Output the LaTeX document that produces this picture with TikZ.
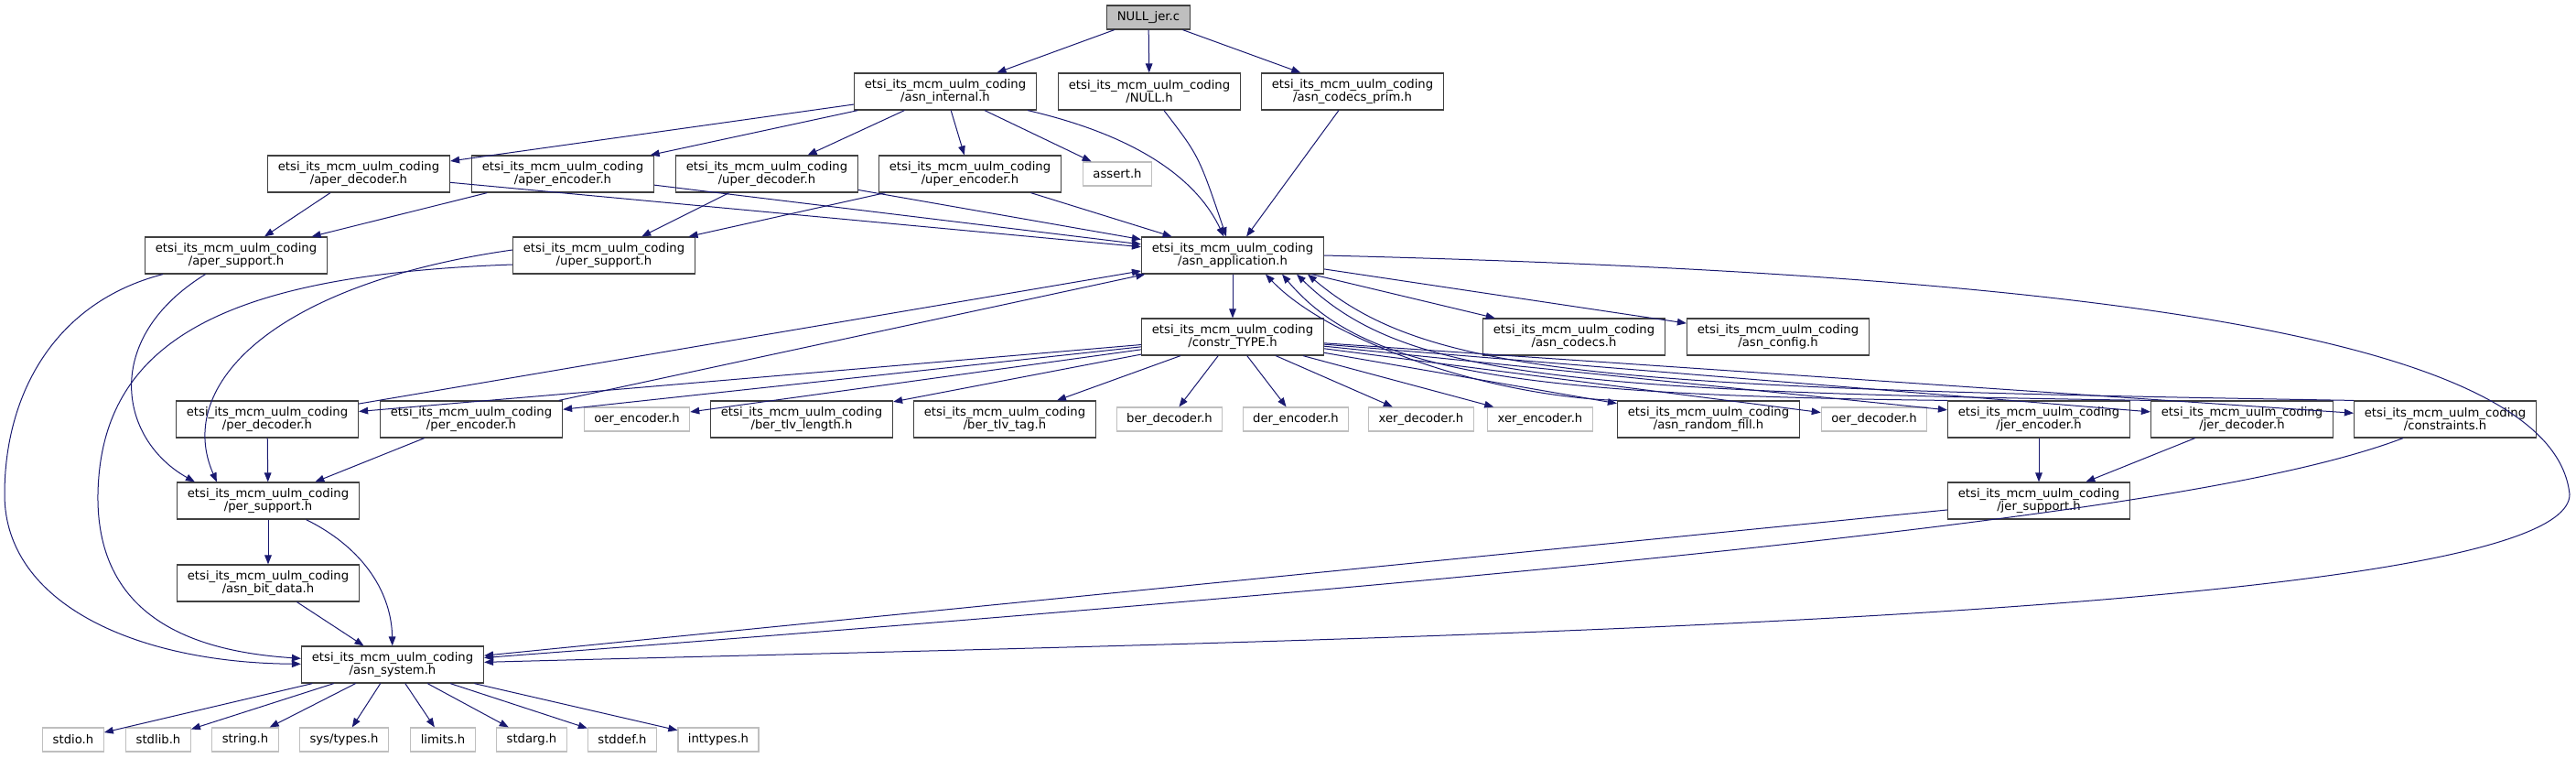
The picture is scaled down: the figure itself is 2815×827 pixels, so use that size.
\documentclass[tikz,border=0pt]{standalone}
\usepackage{fontspec}
\setmainfont{DejaVu Sans}
\usepackage{tikz}
\usetikzlibrary{arrows.meta}
\definecolor{edgeblue}{HTML}{191970}
\definecolor{boxgrey}{HTML}{BFBFBF}
\definecolor{boxline}{HTML}{404040}
\newcommand{\mcmpkg}{etsi\_its\_mcm\_uulm\_coding}
\tikzset{
	header/.style={
		rectangle,
		minimum width=99.5pt,
		minimum height=20pt,
		inner xsep=5.5pt,
		inner ysep=0pt,
		align=center,
		draw=boxline,
		line width=0.6pt,
		fill=white,
		font=\fontsize{6.6}{7.3}\selectfont
	},
	syshdr/.style={
		rectangle,
		minimum height=13pt,
		inner xsep=5.5pt,
		inner ysep=0pt,
		draw=boxgrey,
		line width=0.6pt,
		fill=white,
		font=\fontsize{6.6}{7.3}\selectfont
	},
	mainfile/.style={
		syshdr,
		draw=boxline,
		fill=boxgrey
	},
	arrow/.style={draw=edgeblue, line width=0.5pt, -{Triangle[length=5pt,width=3.8pt]}}
}

\begin{document}
\begin{tikzpicture}[x=0.5pt, y=-0.5pt]
	\useasboundingbox (0,0) rectangle (2815,827);
	\node (nulljer) [mainfile] at (1255,19) {NULL\_jer.c};
	\node (asninternal) [header] at (1033,100) {\mcmpkg\\/asn\_internal.h};
	\node (nullh) [header] at (1256,100) {\mcmpkg\\/NULL.h};
	\node (codecsprim) [header] at (1478,100) {\mcmpkg\\/asn\_codecs\_prim.h};
	
	\node (aperdec) [header] at (392,190) {\mcmpkg\\/aper\_decoder.h};
	\node (aperenc) [header] at (615,190) {\mcmpkg\\/aper\_encoder.h};
	\node (uperdec) [header] at (838,190) {\mcmpkg\\/uper\_decoder.h};
	\node (uperenc) [header] at (1060,190) {\mcmpkg\\/uper\_encoder.h};
	\node (assert) [syshdr] at (1221,190) {assert.h};
	
	\node (apersup) [header] at (258,279) {\mcmpkg\\/aper\_support.h};
	\node (upersup) [header] at (660,279) {\mcmpkg\\/uper\_support.h};
	\node (asnapp) [header] at (1347,279) {\mcmpkg\\/asn\_application.h};
	
	\node (constrtype) [header] at (1347,368) {\mcmpkg\\/constr\_TYPE.h};
	\node (asncodecs) [header] at (1720,368) {\mcmpkg\\/asn\_codecs.h};
	\node (asnconfig) [header] at (1943,368) {\mcmpkg\\/asn\_config.h};
	
	% Codec headers
	\node (perdec) [header] at (292,458) {\mcmpkg\\/per\_decoder.h};
	\node (perenc) [header] at (515,458) {\mcmpkg\\/per\_encoder.h};
	\node (oerenc) [syshdr] at (696,458) {oer\_encoder.h};
	\node (bertlvlen) [header] at (876,458) {\mcmpkg\\/ber\_tlv\_length.h};
	\node (bertlvtag) [header] at (1098,458) {\mcmpkg\\/ber\_tlv\_tag.h};
	\node (berdec) [syshdr] at (1278,458) {ber\_decoder.h};
	\node (derenc) [syshdr] at (1416,458) {der\_encoder.h};
	\node (xerdec) [syshdr] at (1553,458) {xer\_decoder.h};
	\node (xerenc) [syshdr] at (1683,458) {xer\_encoder.h};
	\node (randfill) [header] at (1867,458) {\mcmpkg\\/asn\_random\_fill.h};
	\node (oerdec) [syshdr] at (2048,458) {oer\_decoder.h};
	\node (jerenc) [header] at (2228,458) {\mcmpkg\\/jer\_encoder.h};
	\node (jerdec) [header] at (2450,458) {\mcmpkg\\/jer\_decoder.h};
	\node (constraints) [header] at (2672,458) {\mcmpkg\\/constraints.h};
	
	\node (persup) [header] at (293,547) {\mcmpkg\\/per\_support.h};
	\node (jersup) [header] at (2228,547) {\mcmpkg\\/jer\_support.h};
	\node (bitdata) [header] at (293,637) {\mcmpkg\\/asn\_bit\_data.h};
	\node (asnsys) [header] at (429,726) {\mcmpkg\\/asn\_system.h};
	
	% System headers
	\node (stdio) [syshdr] at (80,808) {stdio.h};
	\node (stdlib) [syshdr] at (173,808) {stdlib.h};
	\node (string) [syshdr] at (268,808) {string.h};
	\node (systypes) [syshdr] at (376,808) {sys/types.h};
	\node (limits) [syshdr] at (484,808) {limits.h};
	\node (stdarg) [syshdr] at (581,808) {stdarg.h};
	\node (stddef) [syshdr] at (680,808) {stddef.h};
	\node (inttypes) [syshdr] at (785,808) {inttypes.h};
	
	\draw [arrow] (nulljer) -- (asninternal);
	\draw [arrow] (nulljer) -- (nullh);
	\draw [arrow] (nulljer) -- (codecsprim);
	
	\draw [arrow] (asninternal) -- (aperdec);
	\draw [arrow] (asninternal) -- (aperenc);
	\draw [arrow] (asninternal) -- (uperdec);
	\draw [arrow] (asninternal) -- (uperenc);
	\draw [arrow] (asninternal) -- (assert);
	\draw [arrow] ([xshift=-5pt]asninternal.south east) .. controls (1250,150) and (1310,200) .. (asnapp);
	\draw [arrow] (nullh) .. controls (1310,170) .. (asnapp);
	\draw [arrow] (codecsprim) -- (asnapp);
	
	\draw [arrow] (aperdec) -- (apersup);
	\draw [arrow] (aperdec) -- (asnapp);
	\draw [arrow] (aperenc) -- (apersup);
	\draw [arrow] (aperenc) -- (asnapp);
	\draw [arrow] (uperdec) -- (upersup);
	\draw [arrow] (uperdec) -- (asnapp);
	\draw [arrow] (uperenc) -- (upersup);
	\draw [arrow] (uperenc) -- (asnapp);
	
	% Support headers
	\draw [arrow] (apersup) .. controls (60,330) and (5,430) .. (5,540) .. controls (5,660) and (150,724) .. (asnsys);
	\draw [arrow] (apersup) .. controls (110,370) and (130,480) .. ([xshift=10pt]persup.north west);
	\draw [arrow] ([yshift=-5pt]upersup.west) .. controls (250,300) and (110,370) .. (107,540) .. controls (105,680) and (220,712) .. (asnsys);
	\draw [arrow] ([yshift=3pt]upersup.west) .. controls (300,310) and (190,420) .. ([xshift=22pt]persup.north west);
	
	\draw [arrow] (asnapp) -- (constrtype);
	\draw [arrow] (asnapp) -- (asncodecs);
	\draw [arrow] (asnapp) -- (asnconfig);
	\draw [arrow] (asnapp.east) .. controls (2300,300) and (2790,370) .. (2808,540) .. controls (2808,680) and (1400,700) .. (asnsys);
	
	\draw [arrow] (constrtype) -- (perdec);
	\draw [arrow] (constrtype) -- (perenc);
	\draw [arrow] (constrtype) -- (oerenc);
	\draw [arrow] (constrtype) -- (bertlvlen);
	\draw [arrow] (constrtype) -- (bertlvtag);
	\draw [arrow] (constrtype) -- (berdec);
	\draw [arrow] (constrtype) -- (derenc);
	\draw [arrow] (constrtype) -- (xerdec);
	\draw [arrow] (constrtype) -- (xerenc);
	\draw [arrow] (constrtype) -- (randfill);
	\draw [arrow] (constrtype) -- (oerdec);
	\draw [arrow] (constrtype) -- (jerenc);
	\draw [arrow] (constrtype) -- (jerdec);
	\draw [arrow] (constrtype) -- (constraints);
	
	% Back to asn_application
	\draw [arrow] (perdec) -- (asnapp);
	\draw [arrow] (perenc) -- (asnapp);
	\draw [arrow] (randfill.north west) .. controls (1620,432) and (1450,370) .. ([xshift=18pt]asnapp.south);
	\draw [arrow] (jerenc.north west) .. controls (1650,432) and (1490,405) .. ([xshift=27pt]asnapp.south);
	\draw [arrow] (jerdec.north west) .. controls (1700,428) and (1530,410) .. ([xshift=35pt]asnapp.south);
	\draw [arrow] (constraints.north west) .. controls (1750,424) and (1560,410) .. ([xshift=41pt]asnapp.south);
	
	\draw [arrow] (perdec) -- (persup);
	\draw [arrow] (perenc) -- (persup);
	\draw [arrow] (persup) -- (bitdata);
	\draw [arrow] (persup) .. controls (400,600) and (428,650) .. (asnsys);
	\draw [arrow] (bitdata) -- (asnsys);
	
	\draw [arrow] (jerenc) -- (jersup);
	\draw [arrow] (jerdec) -- (jersup);
	\draw [arrow] (jersup) -- (asnsys);
	\draw [arrow] ([xshift=-23pt]constraints.south) .. controls (2450,545) and (2000,607) .. (asnsys);
	
	\draw [arrow] (asnsys) -- (stdio);
	\draw [arrow] (asnsys) -- (stdlib);
	\draw [arrow] (asnsys) -- (string);
	\draw [arrow] (asnsys) -- (systypes);
	\draw [arrow] (asnsys) -- (limits);
	\draw [arrow] (asnsys) -- (stdarg);
	\draw [arrow] (asnsys) -- (stddef);
	\draw [arrow] (asnsys) -- (inttypes);
\end{tikzpicture}
\end{document}
